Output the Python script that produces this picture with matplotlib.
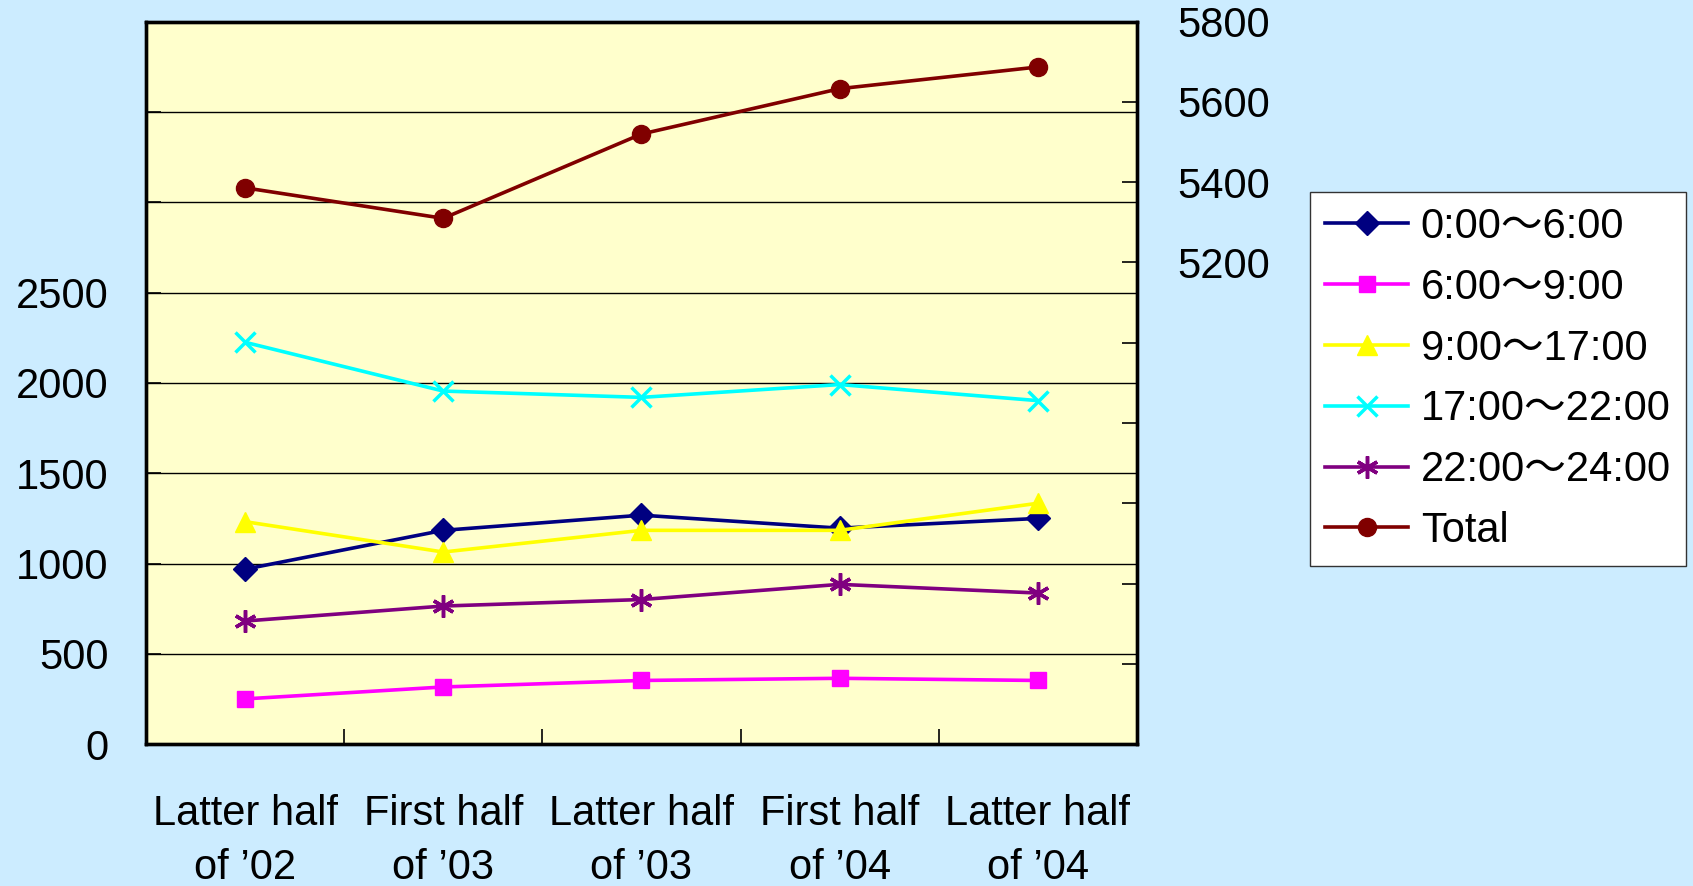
import matplotlib
matplotlib.use("Agg")
import matplotlib.pyplot as plt
from matplotlib.ticker import FixedLocator

plt.rcParams['font.family'] = ['Liberation Sans', 'Noto Sans CJK JP', 'DejaVu Sans']

categories = ["Latter half\nof \u201902", "First half\nof \u201903", "Latter half\nof \u201903",
              "First half\nof \u201904", "Latter half\nof \u201904"]
s_0_6 = [969, 1184, 1268, 1196, 1250]
s_6_9 = [251, 317, 353, 365, 353]
s_9_17 = [1232, 1064, 1184, 1184, 1334]
s_17_22 = [2225, 1955, 1920, 1991, 1902]
s_22_24 = [682, 765, 801, 885, 837]
total = [5386, 5310, 5520, 5633, 5687]

labels = ["0:00\uff5e6:00", "6:00\uff5e9:00", "9:00\uff5e17:00",
          "17:00\uff5e22:00", "22:00\uff5e24:00", "Total"]

left_ticks = list(range(0, 4001, 500))
left_labels = [str(v) if v <= 2500 else "" for v in left_ticks]
right_ticks = list(range(4000, 5801, 200))
right_labels = [str(v) if v >= 5200 else "" for v in right_ticks]

fig = plt.figure(figsize=(16.93, 8.86), dpi=100, facecolor='#CCECFF')
ax = fig.add_axes([0.0862, 0.160, 0.5854, 0.8156])
ax.set_facecolor('#FFFFCC')
ax2 = ax.twinx()

x = list(range(len(categories)))
lw = 2.6
h = []
h += ax.plot(x, s_0_6, color='#000080', marker='D', ms=12, lw=lw, label=labels[0])
h += ax.plot(x, s_6_9, color='#FF00FF', marker='s', ms=12, lw=lw, label=labels[1])
h += ax.plot(x, s_9_17, color='#FFFF00', marker='^', ms=15, lw=lw, label=labels[2])
h += ax.plot(x, s_17_22, color='#00FFFF', marker='x', ms=14, mew=2.5, lw=lw, label=labels[3])
h += ax.plot(x, s_22_24, color='#800080', marker=(6, 2, 0), ms=16, mew=2.5, lw=lw, label=labels[4])
h += ax2.plot(x, total, color='#800000', marker='o', ms=13, lw=lw, label=labels[5])

ax.set_xlim(-0.5, 4.5)
ax.set_ylim(0, 4000)
ax2.set_ylim(4000, 5800)

ax.set_yticks(left_ticks)
ax.set_yticklabels(left_labels)
ax.tick_params(axis='y', direction='in', length=11, width=1.2, pad=27, labelsize=30)
ax.grid(axis='y', color='black', lw=1)
ax.set_axisbelow(True)

ax2.set_yticks(right_ticks)
ax2.set_yticklabels(right_labels)
ax2.tick_params(axis='y', direction='in', length=11, width=1.2, pad=29, labelsize=30)

ax.set_xticks(x)
ax.set_xticklabels(categories, linespacing=1.45)
ax.xaxis.set_minor_locator(FixedLocator([0.5, 1.5, 2.5, 3.5]))
ax.tick_params(axis='x', which='major', length=0, pad=36, labelsize=30)
ax.tick_params(axis='x', which='minor', direction='in', length=11, width=1.2)

for a in (ax, ax2):
    for s in a.spines.values():
        s.set_linewidth(2.4)
        s.set_color('black')

leg = fig.legend(handles=h, labels=labels, loc='upper left', bbox_to_anchor=(0.774, 0.783),
                 borderaxespad=0, fontsize=30, frameon=True, fancybox=False,
                 facecolor='white', edgecolor='#333333', framealpha=1,
                 handlelength=2.0, labelspacing=0.5, borderpad=0.35, handletextpad=0.3)
leg.get_frame().set_linewidth(1.0)

fig.savefig('out.png', dpi=100, facecolor=fig.get_facecolor())
